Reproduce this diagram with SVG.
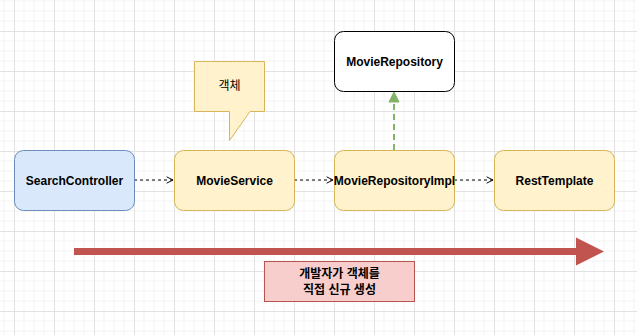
<svg xmlns="http://www.w3.org/2000/svg" width="637" height="335" viewBox="0 0 637 335">
<defs>
<pattern id="grid" patternUnits="userSpaceOnUse" x="14" y="31" width="40" height="40">
<path d="M10,0V40M20,0V40M30,0V40M0,10H40M0,20H40M0,30H40" stroke="#f3f3f3" stroke-width="1" fill="none"/>
<path d="M0.5,0V40M0,0.5H40" stroke="#e2e2e2" stroke-width="1" fill="none"/>
</pattern>
<marker id="open" viewBox="0 0 10 10" refX="9" refY="5" markerWidth="8" markerHeight="8" markerUnits="userSpaceOnUse" orient="auto">
<path d="M1,1L9,5L1,9" fill="none" stroke="#000" stroke-width="1.2"/>
</marker>
</defs>
<style>
.lbl{font-family:"Liberation Sans",Arial,sans-serif;font-size:12px;font-weight:bold;fill:#000;text-anchor:middle;dominant-baseline:central}
.kr{font-family:"Liberation Sans","Noto Sans CJK KR",sans-serif;font-size:12px;fill:#000;text-anchor:middle;dominant-baseline:central}
.y{fill:#fff2cc;stroke:#d6b656;stroke-width:1}
.dash{stroke:#000;stroke-width:1;stroke-dasharray:3,3;fill:none}
</style>
<rect width="637" height="335" fill="#ffffff"/>
<rect width="637" height="335" fill="url(#grid)"/>
<g id="connectors">
<line class="dash" x1="134" y1="180" x2="173" y2="180" marker-end="url(#open)"/>
<line class="dash" x1="294" y1="180" x2="333" y2="180" marker-end="url(#open)"/>
<line class="dash" x1="454" y1="180" x2="493" y2="180" marker-end="url(#open)"/>
<line x1="394" y1="150" x2="394" y2="101" stroke="#82b366" stroke-width="2" stroke-dasharray="6,4"/>
<path d="M389,102L394,92L399,102Z" fill="#82b366" stroke="#82b366" stroke-width="1"/>
</g>
<g id="bigArrow">
<path d="M74,248H576V237.5L604,251.5L576,265.5V255H74Z" fill="#c25450" stroke="none"/>
</g>
<g id="SearchController">
<rect x="14.5" y="150.5" width="120" height="60" rx="9" fill="#dae8fc" stroke="#6c8ebf"/>
<text class="lbl" x="74.5" y="180.5">SearchController</text>
</g>
<g id="MovieService">
<rect class="y" x="174.5" y="150.5" width="120" height="60" rx="9"/>
<text class="lbl" x="234.5" y="180.5">MovieService</text>
</g>
<g id="MovieRepositoryImpl">
<rect class="y" x="334.5" y="150.5" width="120" height="60" rx="9"/>
<text class="lbl" x="394.5" y="180.5">MovieRepositoryImpl</text>
</g>
<g id="RestTemplate">
<rect class="y" x="494.5" y="150.5" width="120" height="60" rx="9"/>
<text class="lbl" x="554.5" y="180.5">RestTemplate</text>
</g>
<g id="MovieRepository">
<rect x="334.5" y="31.5" width="120" height="60" rx="9" fill="#ffffff" stroke="#000000"/>
<text class="lbl" x="394.5" y="61.5">MovieRepository</text>
</g>
<g id="callout">
<path class="y" d="M194.5,61.5H264.5V111.5H250L229.5,140.5V111.5H194.5Z"/>
<text class="kr" x="229.5" y="86">객체</text>
</g>
<g id="note">
<rect x="264.5" y="261.5" width="150" height="40" fill="#f8cecc" stroke="#b85450"/>
<text class="kr" x="339.5" y="273.5" font-weight="bold">개발자가 객체를</text>
<text class="kr" x="339.5" y="290" font-weight="bold">직접 신규 생성</text>
</g>
</svg>
